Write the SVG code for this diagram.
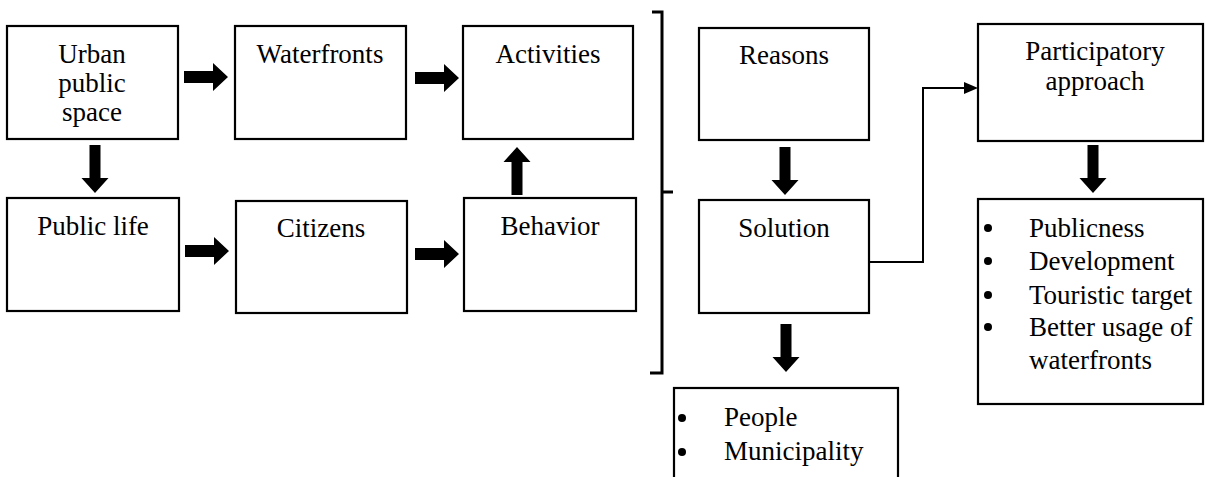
<svg xmlns="http://www.w3.org/2000/svg" width="1206" height="477" viewBox="0 0 1206 477">
<style>
.t{font-family:'Liberation Serif',serif;font-size:27px}
.c{text-anchor:middle}
.box{fill:#fff;stroke:#000;stroke-width:2.2}
.blk{fill:#000}
.ln{fill:none;stroke:#000;stroke-width:2}
.br{fill:none;stroke:#000;stroke-width:3}
</style>
<g id="urban"><rect class="box" x="7" y="26" width="171" height="113"/><text class="t c" x="92" y="63">Urban</text><text class="t c" x="92" y="92">public</text><text class="t c" x="92" y="121">space</text></g>
<g id="waterfronts"><rect class="box" x="235" y="26" width="171" height="113"/><text class="t c" x="320" y="63">Waterfronts</text></g>
<g id="activities"><rect class="box" x="463" y="26" width="170" height="113"/><text class="t c" x="548" y="63">Activities</text></g>
<g id="publiclife"><rect class="box" x="7" y="198" width="172" height="113"/><text class="t c" x="93" y="235">Public life</text></g>
<g id="citizens"><rect class="box" x="236" y="201" width="171" height="112"/><text class="t c" x="321" y="237">Citizens</text></g>
<g id="behavior"><rect class="box" x="464" y="198" width="172" height="113"/><text class="t c" x="550" y="235">Behavior</text></g>
<g id="reasons"><rect class="box" x="699" y="28" width="170" height="112"/><text class="t c" x="784" y="64">Reasons</text></g>
<g id="solution"><rect class="box" x="699" y="200" width="170" height="113"/><text class="t c" x="784" y="237">Solution</text></g>
<g id="participatory"><rect class="box" x="978" y="24" width="225" height="117"/><text class="t c" x="1095" y="60">Participatory</text><text class="t c" x="1095" y="90">approach</text></g>
<g id="benefits"><rect class="box" x="978" y="199" width="225" height="205"/>
<circle cx="988" cy="228" r="4"/><text class="t" x="1029" y="237">Publicness</text>
<circle cx="988" cy="261" r="4"/><text class="t" x="1029" y="270">Development</text>
<circle cx="988" cy="295" r="4"/><text class="t" x="1029" y="304">Touristic target</text>
<circle cx="988" cy="327" r="4"/><text class="t" x="1029" y="336">Better usage of</text>
<text class="t" x="1029" y="369">waterfronts</text></g>
<g id="actors"><rect class="box" x="674" y="388" width="224" height="100"/>
<circle cx="682" cy="418" r="4"/><text class="t" x="724" y="426">People</text>
<circle cx="682" cy="452" r="4"/><text class="t" x="724" y="460">Municipality</text></g>
<g id="connectors">
<polygon class="blk" points="184,71 213,71 213,63 228,77 213,91 213,83 184,83"/>
<polygon class="blk" points="415,72 444,72 444,64 459,78 444,92 444,84 415,84"/>
<polygon class="blk" points="185,245 214,245 214,237 229,251 214,265 214,257 185,257"/>
<polygon class="blk" points="415,248 444,248 444,240 459,254 444,268 444,260 415,260"/>
<polygon class="blk" points="89.5,145 100.5,145 100.5,178 108.5,178 95,193 81.5,178 89.5,178"/>
<polygon class="blk" points="779.5,147 790.5,147 790.5,180 798.5,180 785,195 771.5,180 779.5,180"/>
<polygon class="blk" points="780.5,324 791.5,324 791.5,357 799.5,357 786,372 772.5,357 780.5,357"/>
<polygon class="blk" points="1087.5,145 1098.5,145 1098.5,178 1106.5,178 1093,193 1079.5,178 1087.5,178"/>
<polygon class="blk" points="511.5,195 522.5,195 522.5,162 530.5,162 517,147 503.5,162 511.5,162"/>
<path class="br" d="M652,12 L662,12 L662,373 L650,373 M662,192 L673,192"/>
<polyline class="ln" points="869,262 923,262 923,88 966,88"/>
<polygon class="blk" points="964,82 978,88 964,94"/>
</g>
</svg>
